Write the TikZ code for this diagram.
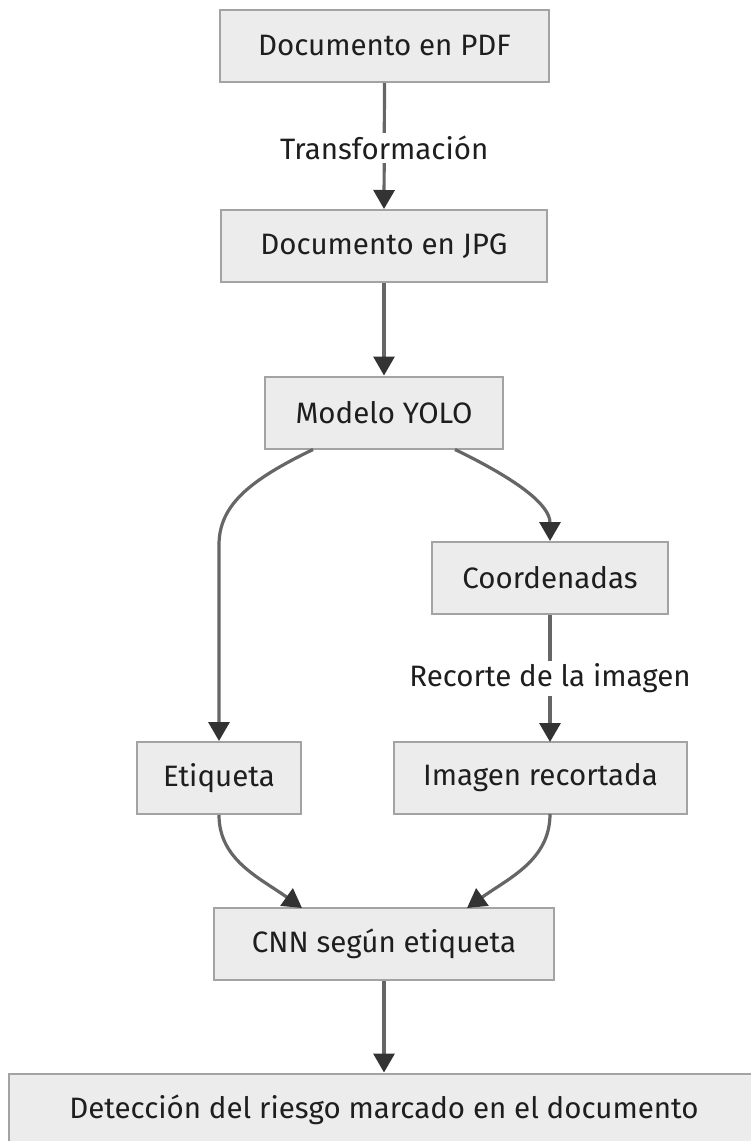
\documentclass[tikz,border=0pt]{standalone}
\usepackage{fontspec}
\setmainfont{Fira Sans}
\usetikzlibrary{arrows.meta}
\definecolor{boxfill}{HTML}{ECECEC}
\definecolor{boxline}{HTML}{A3A3A3}
\definecolor{edgecol}{HTML}{666666}
\definecolor{tipcol}{HTML}{333333}
\definecolor{txtcol}{HTML}{1E1E1E}
\tikzset{
  flowbox/.style={draw=boxline, fill=boxfill, line width=2pt, text=txtcol,
    minimum height=72pt, inner sep=0pt, font=\fontsize{29.5}{34}\selectfont},
  flowedge/.style={draw=edgecol, line width=3.2pt,
    -{Triangle[length=19pt,width=21pt,color=tipcol]}},
  edgelabel/.style={fill=white, text=txtcol, inner sep=3pt,
    font=\fontsize{29.5}{34}\selectfont},
}
\begin{document}
\begin{tikzpicture}[x=1pt,y=-1pt]
\useasboundingbox (0,0) rectangle (750,1141);
\node[flowbox, minimum width=329pt] (pdf) at (384.5,46) {Documento en PDF};
\node[flowbox, minimum width=326pt] (jpg) at (384,246) {Documento en JPG};
\node[flowbox, minimum width=238pt] (yolo) at (384,412.5) {Modelo YOLO};
\node[flowbox, minimum width=236pt] (coord) at (550,578) {Coordenadas};
\node[flowbox, minimum width=164pt] (etiq) at (219,778) {Etiqueta};
\node[flowbox, minimum width=293pt] (imag) at (540.5,778) {Imagen recortada};
\node[flowbox, minimum width=340pt] (cnn) at (384,944) {CNN según etiqueta};
\node[flowbox, minimum width=751pt] (det) at (384,1109.5) {Detección del riesgo marcado en el documento};

\coordinate (yl) at ([xshift=-71pt]yolo.south);
\coordinate (yr) at ([xshift=71pt]yolo.south);
\coordinate (cn) at (550,742);
\coordinate (im) at (550,814);
\coordinate (cl) at (302,908);
\coordinate (cr) at (467,908);

\draw[flowedge] (pdf.south) -- node[edgelabel, pos=0.515] (lt) {Transformación} (jpg.north);
\draw[flowedge] (jpg.south) -- (yolo.north);
\draw[flowedge] (yl) .. controls (250,480) and (219,505) .. (219,545) -- (etiq.north);
\draw[flowedge] (yr) .. controls (518,480) and (550,505) .. (coord.south |- coord.north);
\draw[flowedge] (coord.south) -- node[edgelabel] (lr) {Recorte de la imagen} (cn);
\draw[flowedge] (etiq.south) .. controls (219,860) and (260,878) .. (cl);
\draw[flowedge] (im) .. controls (550,860) and (509,878) .. (cr);
\draw[flowedge] (cnn.south) -- (det.north);
\end{tikzpicture}
\end{document}
